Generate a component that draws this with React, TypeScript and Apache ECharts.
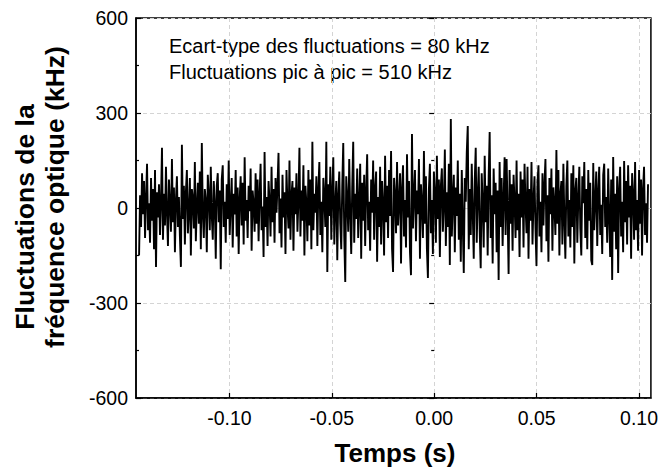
import React, { useEffect, useRef } from "react";
import * as echarts from "echarts";

const xMajorTicks = [-0.1, -0.05, 0, 0.05, 0.1];
const xMinorTicks = [-0.125, -0.075, -0.025, 0.025, 0.075];
const xMin = -0.1456;
const xMax = 0.1058;
const yMin = -600;
const yMax = 600;
const yInterval = 300;

const timeStart = -0.1441;
const timeEnd = 0.1044;

const fluctuations = [
  -150, 40, -60, 110, -20, 85, -95, 30, 140, -70, 15, -110, 95, -40, 60, -130, 120, -186, 50, -30,
  75, -85, 20, 190, -100, 45, -55, 130, -15, -120, 90, 10, -75, 155, -45, 65, -140, 25, 100, -60,
  35, -90, -186, 200, -35, 70, -115, 50, 120, -80, -10, 95, -150, 60, 30, -65, 145, -105, 5, 80,
  -50, 115, -130, 205, -20, -95, 60, 25, -140, 105, 40, -70, 130, -25, -100, 85, 15, -160, 70, 110,
  -45, 55, -193, 90, 135, -60, 20, -110, 75, -35, 150, -85, 10, 95, -125, 45, -20, 120, -90, 65,
  -145, 30, 100, -55, 80, -115, 160, -40, 25, -95, 70, -10, 125, -135, 55, 15, -75, 110, -50, 90,
  -105, 40, 140, -70, 5, -155, 177, -60, 35, -120, 85, 20, -90, 130, -45, 60, -110, 95, -15, 75,
  174, -80, 30, -125, 105, -30, 50, -145, 120, 10, -65, 150, -100, 40, 85, -135, 65, -20, 110, -75,
  25, 190, -90, 55, -40, 135, -150, 70, 15, -105, 120, -55, 90, -130, 209, -70, 45, -15, 100, -120,
  60, 145, -85, 20, -140, 95, 35, -60, 209, -202, 75, -25, 130, -100, 50, 160, -115, 10, 85, -165,
  40, 115, -50, -130, 70, 205, -90, -234, 100, 30, -75, 155, -20, -145, 65, 209, -110, 45, -35, 125,
  -95, 15, 140, -160, 80, -40, 105, -120, 55, 170, -70, 20, -135, 90, -15, 150, -100, 60, 115, -170,
  35, -60, 130, -115, 85, 10, -150, 165, -45, 70, -95, 120, -25, 180, -130, -202, 95, 40, -80, 145,
  -55, 20, 110, -175, 60, 135, -90, 25, -125, 170, -30, 85, -140, -212, 234, -65, 40, 120, -105, 55,
  -20, 155, -160, 75, 15, -95, 180, -50, 100, -130, -221, 60, 140, -80, 25, -145, 115, 45, -110, 165,
  -35, 90, -155, 70, 125, -75, 10, 185, -120, 50, -60, 140, -180, 281, -90, 30, 105, -140, 65, -25,
  150, -100, 45, -170, 120, -50, -205, 95, 20, 175, 259, -130, 60, -85, 140, -15, -160, 85, 190, -110,
  35, 130, -75, -190, 110, 15, -125, 165, -45, 70, -150, 100, 240, -95, 40, -175, 125, -20, 80, -140,
  55, -227, 145, -60, 95, -120, 30, 160, -85, 155, -10, -208, 120, -50, 75, -135, 105, 20, -95, 150,
  -70, 45, -155, 115, -30, 90, -125, 140, 10, -80, 130, -160, 60, -40, 145, -115, 25, 100, -65, -183,
  80, 135, -90, 20, -140, 110, -55, 75, 155, -105, 40, -170, 95, -20, 125, -135, 65, 10, -85, 183,
  -50, 120, -150, 45, 85, -115, 140, -35, -160, 70, 150, -90, 25, -125, 110, -60, 135, -175, 55, 95,
  -110, 30, 130, -65, -150, 100, 15, 145, -95, 60, -130, 120, -40, 80, -165, -180, 142, -70, 25, 115,
  -120, 50, 130, -85, 10, -145, 105, 140, -60, 35, -110, 125, -25, -155, 90, -227, 161, -75, 45, -130,
  100, -205, 60, 130, -90, 20, -140, 148, -45, 85, -115, 135, -30, 70, -160, 110, 40, -100, 145, -70,
  25, -135, 120, -50, 90, -150, 60, 130, -85, 15, -110, 75,
];

const xAxisTitle = "Temps (s)";
const yAxisTitle = ["Fluctuations de la", "fréquence optique (kHz)"];
const annotationLines = [
  "Ecart-type des fluctuations = 80 kHz",
  "Fluctuations pic à pic = 510 kHz",
];

const FONT = "'Liberation Sans', Arial, sans-serif";

export default function App() {
  const ref = useRef<HTMLDivElement>(null);

  useEffect(() => {
    document.body.style.margin = "0";
    if (!ref.current) return;
    const chart = echarts.init(ref.current, undefined, { renderer: "svg" });
    const n = fluctuations.length;
    const step = (timeEnd - timeStart) / (n - 1);
    const seriesData = fluctuations.map((v, i) => [timeStart + i * step, v]);

    const gridLine = { show: true, lineStyle: { color: "#d4d4d4", type: [4, 3] as any, width: 1 } };

    chart.setOption({
      animation: false,
      backgroundColor: "#ffffff",
      grid: {
        left: 136,
        right: 8,
        top: 18,
        bottom: 72,
        show: true,
        borderColor: "#000",
        borderWidth: 1.5,
        backgroundColor: "transparent",
      },
      xAxis: [
        {
          type: "value",
          min: xMin,
          max: xMax,
          axisLine: { show: true, onZero: false, lineStyle: { color: "#000", width: 1.5 } },
          axisTick: { show: true, inside: true, length: 5, customValues: xMajorTicks, lineStyle: { color: "#000", width: 1.2 } },
          axisLabel: {
            customValues: xMajorTicks,
            formatter: (v: number) => v.toFixed(2),
            color: "#000",
            fontSize: 19.5,
            fontFamily: FONT,
            margin: 10,
          },
          splitLine: gridLine,
        },
        {
          type: "value",
          min: xMin,
          max: xMax,
          position: "bottom",
          axisLine: { show: false },
          axisTick: { show: true, inside: true, length: 3, customValues: xMinorTicks, lineStyle: { color: "#000", width: 1.2 } },
          axisLabel: { show: false },
          splitLine: { show: false },
        },
      ],
      yAxis: [
        {
          type: "value",
          min: yMin,
          max: yMax,
          interval: yInterval,
          axisLine: { show: true, onZero: false, lineStyle: { color: "#000", width: 1.5 } },
          axisTick: { show: true, inside: true, length: 5, lineStyle: { color: "#000", width: 1.2 } },
          minorTick: { show: true, splitNumber: 2, length: 3, lineStyle: { color: "#000", width: 1.2 } },
          axisLabel: { color: "#000", fontSize: 19.5, fontFamily: FONT, margin: 8 },
          splitLine: gridLine,
        },
        {
          type: "value",
          min: yMin,
          max: yMax,
          interval: yInterval,
          position: "right",
          axisLine: { show: false },
          axisTick: { show: true, inside: true, length: 5, lineStyle: { color: "#000", width: 1.2 } },
          minorTick: { show: true, splitNumber: 2, length: 3, lineStyle: { color: "#000", width: 1.2 } },
          axisLabel: { show: false },
          splitLine: { show: false },
        },
      ],
      series: [
        {
          type: "line",
          xAxisIndex: 0,
          yAxisIndex: 0,
          data: seriesData,
          showSymbol: false,
          symbol: "none",
          lineStyle: { color: "#000", width: 1.9 },
          clip: true,
        },
      ],
      graphic: [
        {
          type: "text",
          x: 169,
          y: 46,
          style: { text: annotationLines[0], fill: "#000", font: `20px ${FONT}`, textVerticalAlign: "middle" },
        },
        {
          type: "text",
          x: 169,
          y: 72,
          style: { text: annotationLines[1], fill: "#000", font: `20px ${FONT}`, textVerticalAlign: "middle" },
        },
        {
          type: "text",
          x: 395,
          y: 453,
          style: { text: xAxisTitle, fill: "#000", font: `bold 26px ${FONT}`, textAlign: "center", textVerticalAlign: "middle" },
        },
        {
          type: "text",
          x: 25,
          y: 217,
          rotation: Math.PI / 2,
          style: { text: yAxisTitle[0], fill: "#000", font: `bold 26.5px ${FONT}`, textAlign: "center", textVerticalAlign: "middle" },
        },
        {
          type: "text",
          x: 55,
          y: 197,
          rotation: Math.PI / 2,
          style: { text: yAxisTitle[1], fill: "#000", font: `bold 26.5px ${FONT}`, textAlign: "center", textVerticalAlign: "middle" },
        },
      ],
    });

    return () => chart.dispose();
  }, []);

  return <div ref={ref} style={{ width: 661, height: 470 }} />;
}
